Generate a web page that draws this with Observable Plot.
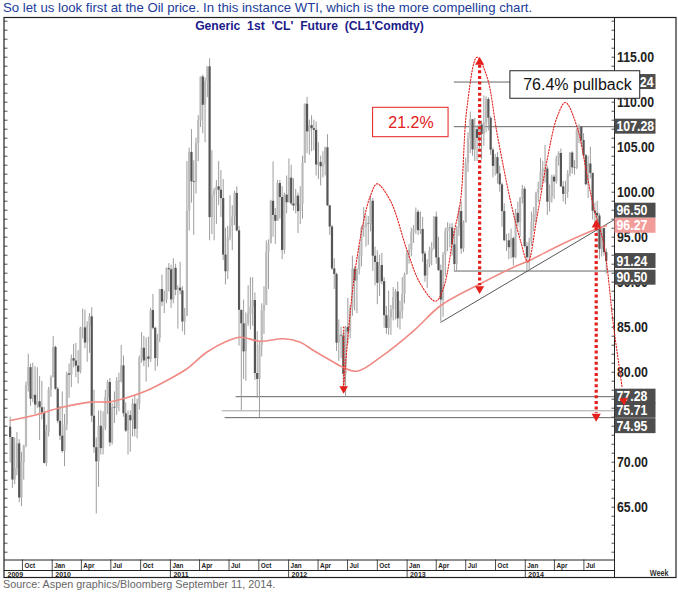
<!DOCTYPE html>
<html><head><meta charset="utf-8">
<script src="https://cdn.jsdelivr.net/npm/d3@7"></script>
<script src="https://cdn.jsdelivr.net/npm/@observablehq/plot@0.6"></script>
<style>
body{margin:0;background:#fff;width:678px;height:596px;overflow:hidden;}
#head{height:17px;line-height:16px;font-family:'Liberation Sans',Arial,sans-serif;font-size:13.2px;color:#203c9a;padding-left:3px;white-space:nowrap;}
#src{height:14px;line-height:12px;font-family:'Liberation Sans',Arial,sans-serif;font-size:10.8px;color:#666;padding-left:3px;white-space:nowrap;}
#chart svg{display:block;}
</style></head><body>
<div id="head">So let us look first at the Oil price. In this instance WTI, which is the more compelling chart.</div>
<div id="chart"></div>
<div id="src">Source: Aspen graphics/Bloomberg September 11, 2014.</div>
<script>
// ---------- DATA ----------
const firstWeek = "2009-08-24";   // Monday of first weekly bar
const firstOpen = 73.89;
// weekly [high, low, close]
const hlc2009 = [[75.0,69.9,72.74],[72.0,67.1,68.02],[72.7,67.5,69.29],[73.3,68.5,72.04],[72.5,65.5,66.02],[71.1,65.05,69.95],[71.9,68.0,71.77],[78.9,71.6,78.53],[82.0,77.8,80.50],[80.9,76.2,77.00],[81.0,76.6,77.43],[80.6,75.3,76.35],[80.5,76.0,76.72],[79.5,72.4,76.05],[79.0,74.7,75.47],[76.1,69.8,69.87],[74.1,69.5,73.36],[78.3,72.8,78.05]];
const hlc2010 = [[79.6,77.2,79.36],[83.95,79.6,82.75],[82.9,78.0,78.10],[78.3,74.3,74.54],[76.2,72.4,72.89],[77.8,71.0,71.19],[75.3,69.5,74.13],[80.0,73.5,79.81],[80.9,77.1,79.66],[81.9,78.3,81.50],[83.1,80.5,81.24],[83.2,79.4,80.68],[82.4,78.7,80.00],[85.0,79.8,84.87],[87.0,83.7,84.92],[86.9,82.6,83.24],[85.6,81.1,85.12],[86.5,82.1,86.15],[87.15,74.4,75.11],[78.0,71.0,71.61],[72.7,64.24,70.04],[75.7,67.2,74.00],[75.7,70.8,71.51],[75.6,70.8,73.78],[78.0,73.5,77.18],[79.1,75.3,78.86],[79.3,71.7,72.14],[76.5,71.9,76.09],[77.8,74.3,76.01],[79.4,75.2,78.98],[79.9,75.6,78.95],[82.97,78.8,80.70],[81.8,75.0,75.39],[76.6,73.3,73.46],[75.7,70.8,75.17],[75.7,71.1,74.60],[77.0,72.8,76.45],[77.4,72.8,73.66],[77.0,72.6,76.49],[81.8,75.8,81.58],[84.4,81.0,82.66],[84.0,80.6,81.25],[83.8,78.9,81.69],[83.9,80.5,81.43],[87.1,81.1,86.85],[88.63,84.7,84.88],[85.0,80.1,81.51],[84.2,80.6,83.76],[89.2,83.3,89.19],[90.8,87.3,87.79],[89.0,86.5,88.02],[91.6,87.6,91.51],[92.06,88.9,91.38]];
const hlc2011 = [[91.9,87.1,88.03],[92.6,87.6,91.54],[92.0,88.5,89.11],[89.6,84.8,89.34],[92.2,88.6,89.03],[89.5,84.5,85.58],[87.1,84.1,86.20],[103.4,86.8,97.88],[104.9,95.7,104.42],[106.95,98.8,101.16],[103.5,95.2,101.07],[106.0,99.8,105.40],[108.5,103.4,107.94],[112.8,107.2,112.79],[113.0,106.5,109.66],[112.7,105.5,112.29],[113.9,110.5,113.93],[114.83,94.6,97.18],[104.6,95.3,99.65],[100.4,94.6,100.10],[101.3,96.4,100.59],[103.4,98.5,100.22],[102.4,97.2,99.29],[101.4,92.4,93.01],[96.0,89.7,91.16],[96.2,90.3,94.94],[99.6,94.6,96.20],[98.5,93.5,97.24],[100.1,96.3,99.87],[100.6,95.6,95.70],[96.2,82.9,86.88],[86.6,75.71,85.38],[88.0,79.2,82.26],[86.6,79.0,85.37],[89.6,85.1,86.45],[90.5,84.7,87.24],[90.5,85.1,87.96],[88.8,79.1,79.85],[84.5,77.1,79.20],[83.4,74.95,82.98],[87.6,81.7,86.80],[89.5,84.2,87.40],[94.6,87.6,93.32],[94.7,89.2,94.26],[99.1,94.3,98.99],[103.37,95.0,97.41],[98.2,94.2,96.77],[101.3,96.8,100.96],[101.3,97.0,99.41],[100.6,92.5,93.53],[99.9,93.1,99.68],[101.8,97.6,98.83]];
const hlc2012 = [[103.7,98.8,101.56],[103.0,98.5,98.70],[101.5,97.9,98.46],[100.3,97.6,99.56],[99.9,95.4,97.84],[100.6,96.4,98.67],[104.0,97.0,103.24],[109.8,103.2,109.77],[110.55,104.3,106.70],[108.0,104.1,107.40],[108.5,104.5,107.06],[108.0,104.6,106.87],[107.8,101.8,103.02],[105.5,101.4,103.31],[104.0,100.7,102.83],[104.5,101.6,103.05],[105.0,101.8,104.93],[106.4,98.4,98.49],[98.5,95.2,96.13],[96.3,91.3,91.48],[92.6,89.2,90.86],[91.0,82.3,83.23],[85.8,81.2,84.10],[85.0,81.5,84.03],[84.5,78.2,79.76],[85.1,77.28,84.96],[88.2,83.1,84.45],[87.4,83.7,87.10],[92.9,86.2,91.44],[91.7,86.8,90.13],[91.5,86.5,91.40],[94.0,90.8,92.87],[96.2,91.7,96.01],[98.3,95.0,96.15],[97.4,93.9,96.47],[97.3,94.1,96.42],[99.6,95.6,98.99],[99.3,91.2,92.89],[93.9,89.6,92.19],[93.5,87.5,89.88],[93.0,88.4,91.86],[93.2,89.7,90.05],[90.5,84.9,86.28],[87.3,84.2,84.86],[89.0,84.1,86.07],[87.4,84.1,86.92],[89.4,85.7,88.28],[89.2,85.8,88.91],[90.0,84.9,85.93],[87.9,84.7,86.73],[90.5,85.9,88.66],[91.0,87.6,90.80]];
const hlc2013 = [[93.4,91.0,93.09],[94.2,92.0,93.56],[96.0,92.8,95.56],[96.3,94.3,95.88],[98.24,95.3,97.77],[98.0,95.2,95.72],[97.8,95.3,95.86],[97.2,92.2,93.13],[93.4,90.0,90.68],[92.5,89.3,91.95],[93.9,91.6,93.45],[94.4,91.8,93.71],[97.3,93.6,97.23],[97.8,92.0,92.70],[95.0,91.2,91.29],[91.9,85.6,88.01],[93.3,86.1,93.00],[96.0,90.6,95.61],[96.6,93.4,96.04],[96.5,93.8,96.02],[96.5,92.9,94.15],[95.7,91.2,91.97],[96.2,91.2,96.03],[98.3,95.1,97.85],[99.0,93.1,93.69],[96.8,93.3,96.56],[103.8,96.9,103.22],[106.6,102.2,105.95],[108.9,104.3,108.05],[108.1,104.0,104.70],[108.2,103.4,106.94],[107.4,103.4,105.97],[108.0,104.8,107.46],[107.9,103.6,106.42],[110.7,105.1,107.65],[110.6,106.6,110.30],[110.5,106.8,108.21],[108.4,104.1,104.67],[104.9,101.6,102.87],[104.2,101.8,103.84],[104.4,100.9,102.02],[102.9,100.0,100.81],[101.0,96.1,97.85],[98.7,94.5,94.61],[95.3,93.4,94.60],[95.4,92.5,93.84],[95.9,92.6,94.84],[95.0,91.8,92.72],[98.1,92.6,97.65],[98.9,96.1,96.60],[99.4,95.0,99.32],[100.75,98.7,100.32]];
const hlc2014 = [[100.6,93.8,93.96],[94.4,91.24,92.72],[94.9,91.3,94.37],[97.8,94.0,96.64],[98.3,95.6,97.49],[100.0,96.5,99.88],[101.1,98.8,100.30],[103.75,100.2,102.20],[103.4,101.0,102.59],[105.2,101.0,102.58],[102.9,97.4,98.89],[100.8,97.8,99.46],[101.9,98.8,101.67],[101.9,99.2,101.14],[104.0,100.9,103.74],[104.5,102.9,104.30],[104.8,100.5,100.60],[101.2,98.9,99.76],[101.2,98.6,99.99],[102.4,99.3,102.02],[104.4,101.7,104.35],[104.5,102.0,102.71],[103.5,101.9,102.66],[107.0,102.5,106.91],[107.5,105.4,107.26],[107.3,105.0,105.74],[106.5,103.8,104.06],[104.2,100.7,100.83],[104.0,99.3,103.13],[105.0,101.5,102.09],[102.1,96.9,97.88],[98.8,96.5,97.65],[99.0,95.2,97.35],[97.6,92.5,93.65],[96.0,92.8,95.96],[96.0,92.9,93.29],[93.7,90.9,92.30]];

// moving average
const maDates = ["2009-08-25","2009-11-04","2010-01-26","2010-04-28","2010-06-29","2010-08-19","2010-10-21","2010-12-21","2011-02-21","2011-04-23","2011-06-24","2011-08-04","2011-10-05","2011-12-16","2012-02-06","2012-03-18","2012-05-10","2012-06-19","2012-07-31","2012-10-11","2013-01-22","2013-04-15","2013-08-15","2013-11-26","2014-01-07","2014-04-30","2014-08-11","2014-09-08"];
const maValues = [74.63,75.19,76.04,76.67,76.70,77.16,77.97,79.08,80.38,82.22,83.44,83.89,83.44,83.71,83.33,82.41,81.30,80.52,80.11,81.67,84.63,87.41,89.82,91.67,92.30,94.33,95.93,96.27];

// hand-drawn red dotted wave
const waveDates = ["2012-06-19","2012-07-19","2012-08-20","2012-09-10","2012-09-30","2012-11-10","2013-01-01","2013-02-11","2013-03-30","2013-04-24","2013-05-25","2013-06-15","2013-07-05","2013-08-05","2013-09-05","2013-10-06","2013-11-16","2013-12-17","2014-01-09","2014-02-06","2014-03-09","2014-04-09","2014-05-05","2014-06-10","2014-07-10","2014-07-31","2014-08-31","2014-10-01","2014-10-27"];
const waveValues = [78.33,89.82,96.86,99.63,100.93,99.08,93.52,89.82,87.89,89.44,95.38,99.08,109.44,115.00,112.78,106.49,99.08,94.63,92.24,97.22,103.52,108.33,109.97,107.22,102.04,98.33,94.27,85.00,78.33];

// trend line
const trendDates = ["2013-04-15","2014-10-03"];
const trendValues = [85.55,96.95];

// horizontal levels
const levelValues = [112.24,107.28,91.24,77.28,75.71,74.95];
const levelFrom   = ["2013-05-27","2013-05-27","2013-05-27","2011-07-23","2011-06-10","2011-06-19"];

// price tags on the right
const tagValues = [112.24,107.28,96.50,96.27,91.24,90.50,77.28,75.71,74.95];

// arrows: [date, from, to]
const bigArrows = [["2013-08-13",115.00,88.71],["2014-08-08",96.93,74.52]];
const smallArrow = ["2012-06-19",85.0,77.6];
const waveTip = ["2014-11-01",76.3];

// boxes
const pctBox = {text:"21.2%", x1:"2012-09-18", x2:"2013-05-09", y1:106.11, y2:109.38, tx:"2013-01-13", ty:107.74};
const pullBox = {text:"76.4% pullback", x1:"2013-11-16", x2:"2014-12-22", y1:110.38, y2:113.44, tx:"2014-06-11", ty:111.91};

// axis labels (75.00 sits fully behind the price tags in the original)
const yTickValues = [65,70,80,85,90,95,100,105,110,115];
const quarterTicks = ["2009-10-01","2010-01-01","2010-04-01","2010-07-01","2010-10-01","2011-01-01","2011-04-01","2011-07-01","2011-10-01","2012-01-01","2012-04-01","2012-07-01","2012-10-01","2013-01-01","2013-04-01","2013-07-01","2013-10-01","2014-01-01","2014-04-01","2014-07-01"];
const quarterNames = ["Oct","Jan","Apr","Jul","Oct","Jan","Apr","Jul","Oct","Jan","Apr","Jul","Oct","Jan","Apr","Jul","Oct","Jan","Apr","Jul"];
const yearTicks = ["2010-01-01","2011-01-01","2012-01-01","2013-01-01","2014-01-01"];
const yearNames = ["2009","2010","2011","2012","2013","2014"];
const title = "Generic  1st  'CL'  Future  (CL1'Comdty)";

// ---------- BUILD ----------
const D = s => new Date(s + (s.length === 10 ? "T00:00:00Z" : ""));
const allHLC = [...hlc2009, ...hlc2010, ...hlc2011, ...hlc2012, ...hlc2013, ...hlc2014];
const start = D(firstWeek);
const weeks = allHLC.map((d, i) => ({date: d3.utcDay.offset(start, 7 * i), high: d[0], low: d[1], close: d[2]}));
weeks.forEach((d, i) => { d.open = i ? weeks[i - 1].close : firstOpen; d.up = d.close >= d.open; });

const ma = maDates.map((d, i) => ({date: D(d), v: maValues[i]}));
const wave = waveDates.map((d, i) => ({date: D(d), v: waveValues[i]}));
const trend = trendDates.map((d, i) => ({date: D(d), v: trendValues[i]}));

const W = 678, H = 561, ML = 4, MR = 64, MT = 0, MB = 18.5;
const xDomain = [D("2009-08-06T14:00:00Z"), D("2014-10-03T12:00:00Z")];
const yDomain = [59.133, 119.411];
const xs = d3.scaleUtc().domain(xDomain).range([ML, W - MR]);
const ys = d3.scaleLinear().domain(yDomain).range([H - MB, MT]);
const px = v => xs.invert(v), py = v => ys.invert(v);
const shift = (v, dpx) => ys.invert(ys(v) + dpx);

const SANS = "'Liberation Sans',Arial,sans-serif";
const RED = "#e3201b";
const tagNudge = {"96.5": -13, "91.24": -10, "74.95": 8.5};
const tags = tagValues.map(v => ({v, c: shift(v, tagNudge[String(v)] || 0), ma: v === 96.27}));
const fmt = d3.format(".2f");

const plot = Plot.plot({
  width: W, height: H, marginLeft: ML, marginRight: MR, marginTop: MT, marginBottom: MB,
  x: {type: "utc", domain: xDomain, axis: null},
  y: {type: "linear", domain: yDomain, axis: null},
  style: {fontFamily: SANS, background: "white", overflow: "visible"},
  marks: [
    // frames
    Plot.rect([0], {x1: () => px(4), x2: () => px(676), y1: () => py(560.5), y2: () => py(0.5), fill: "none", stroke: "#222", strokeWidth: 1.2}),
    Plot.ruleX([0], {x: () => px(614), y1: () => py(0.5), y2: () => py(560.5), stroke: "#222", strokeWidth: 1}),
    Plot.ruleY([0], {y: () => py(542.5), x1: () => px(4), x2: () => px(614), stroke: "#222", strokeWidth: 1}),
    Plot.ruleY([0], {y: () => py(553), x1: () => px(4), x2: () => px(614), stroke: "#222", strokeWidth: 1}),
    // minor ticks
    Plot.ruleY(d3.range(60, 120), {y: d => d, x1: () => px(4), x2: () => px(7.5), stroke: "#222", strokeWidth: 0.8}),
    Plot.ruleY(d3.range(60, 120), {y: d => d, x1: () => px(611.5), x2: () => px(614), stroke: "#222", strokeWidth: 0.8}),
    // bottom axis
    Plot.ruleX(quarterTicks, {x: d => D(d), y1: () => py(542.5), y2: () => py(553), stroke: "#222", strokeWidth: 0.8}),
    Plot.text(quarterTicks, {x: d => D(d), y: () => py(548.2), text: (d, i) => quarterNames[i], dx: 2, textAnchor: "start", fontSize: 7.6, fontWeight: "bold", fill: "#222", ariaDescription: "narrow-0.84"}),
    Plot.ruleX(yearTicks, {x: d => D(d), y1: () => py(553), y2: () => py(560.5), stroke: "#222", strokeWidth: 0.8}),
    Plot.text(yearNames, {x: (d, i) => i === 0 ? xDomain[0] : D(yearTicks[i - 1]), y: () => py(556.6), text: d => d, dx: 3, textAnchor: "start", fontSize: 8, fontWeight: "bold", fill: "#222", ariaDescription: "narrow-0.88"}),
    Plot.text(["Week"], {x: () => px(668), y: () => py(555.3), text: d => d, textAnchor: "end", fontSize: 8.5, fontWeight: "bold", fill: "#333", ariaDescription: "narrow-0.85"}),
    // horizontal levels
    Plot.ruleY(levelValues, {y: d => d, x1: (d, i) => D(levelFrom[i]), x2: () => px(614), stroke: (d) => d === 75.71 ? "#9a9a9a" : "#555", strokeWidth: 0.9}),
    // trend line
    Plot.line(trend, {x: "date", y: "v", stroke: "#444", strokeWidth: 0.9}),
    // candles
    Plot.ruleX(weeks, {x: "date", y1: "low", y2: "high", stroke: "#9d9d9d", strokeWidth: 1}),
    Plot.ruleX(weeks.filter(d => d.up), {x: "date", y1: "open", y2: "close", stroke: "#bababa", strokeWidth: 2.2}),
    Plot.ruleX(weeks.filter(d => !d.up), {x: "date", y1: "open", y2: "close", stroke: "#555", strokeWidth: 2.2}),
    // moving average
    Plot.line(ma, {x: "date", y: "v", curve: "catmull-rom", stroke: "#f08a84", strokeWidth: 1.6}),
    // small arrow
    Plot.ruleX([smallArrow], {x: d => D(d[0]), y1: d => d[1], y2: d => shift(d[2], -7), stroke: RED, strokeWidth: 1.4, strokeDasharray: "1.5,1.5"}),
    Plot.dot([smallArrow], {x: d => D(d[0]), y: d => shift(d[2], -5), symbol: "triangle", r: 3.2, fill: RED, rotate: 180}),
    // 21.2% box
    Plot.rect([pctBox], {x1: d => D(d.x1), x2: d => D(d.x2), y1: "y1", y2: "y2", fill: "white", stroke: RED, strokeWidth: 1}),
    Plot.text([pctBox], {x: d => D(d.tx), y: "ty", text: "text", fill: RED, fontSize: 16}),
    // right axis labels
    Plot.text(yTickValues, {x: () => px(616.5), y: d => d, text: d => fmt(d), textAnchor: "start", fontSize: 14, fontWeight: "bold", fill: "#222", ariaDescription: "narrow-0.88"}),
    // price tags
    Plot.rect(tags, {x1: () => px(614.5), x2: () => px(655.5), y1: d => shift(d.c, 7.5), y2: d => shift(d.c, -7.5), fill: d => d.ma ? "#f29c9a" : "#4d4d4d"}),
    Plot.text(tags, {x: () => px(616), y: "c", text: d => fmt(d.v), textAnchor: "start", fontSize: 14, fontWeight: "bold", fill: "white", ariaDescription: "narrow-0.88"}),
    // wave (drawn over the tags like the reference)
    Plot.line(wave, {x: "date", y: "v", curve: "catmull-rom", stroke: RED, strokeWidth: 1.1, strokeDasharray: "1.4,1.6"}),
    Plot.dot([waveTip], {x: d => D(d[0]), y: d => shift(d[1], -5), symbol: "triangle", r: 3.2, fill: RED, rotate: 172}),
    // big arrows
    Plot.ruleX(bigArrows, {x: d => D(d[0]), y1: d => shift(d[1], 8), y2: d => shift(d[2], -8), stroke: RED, strokeWidth: 3.2, strokeDasharray: "3,2.6"}),
    Plot.dot(bigArrows, {x: d => D(d[0]), y: d => shift(d[1], 5), symbol: "triangle", r: 3.4, fill: RED}),
    Plot.dot(bigArrows, {x: d => D(d[0]), y: d => shift(d[2], -5), symbol: "triangle", r: 3.4, fill: RED, rotate: 180}),
    // pullback box
    Plot.rect([pullBox], {x1: d => D(d.x1), x2: d => D(d.x2), y1: "y1", y2: "y2", fill: "white", stroke: "#222", strokeWidth: 1}),
    Plot.text([pullBox], {x: d => D(d.tx), y: "ty", text: "text", fill: "#111", fontSize: 16}),
    // title
    Plot.text([title], {x: () => px(309), y: () => py(8.5), text: d => d, fontSize: 13.5, fontWeight: "bold", fill: "#1b1b8a", ariaDescription: "narrow-0.9"})
  ]
});
document.getElementById("chart").appendChild(plot);
// condensed look of the original's narrow typeface
d3.select(plot).selectAll("g[aria-description^='narrow-'] text").each(function () {
  const f = +this.parentNode.getAttribute("aria-description").split("-")[1];
  const w = this.getComputedTextLength();
  if (w > 0 && f > 0) { this.setAttribute("textLength", (w * f).toFixed(2)); this.setAttribute("lengthAdjust", "spacingAndGlyphs"); }
});
</script></body></html>
